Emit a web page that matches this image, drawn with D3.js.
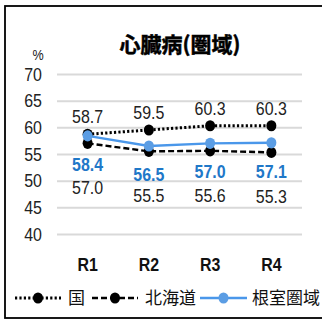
<!DOCTYPE html>
<html>
<head>
<meta charset="utf-8">
<script src="https://cdn.jsdelivr.net/npm/d3@7"></script>
<style>
  html, body { margin: 0; padding: 0; background: #fff; }
  svg { display: block; }
  text { font-family: "Liberation Sans", "Noto Sans CJK JP", sans-serif; }
</style>
</head>
<body>
<svg id="chart" width="322" height="322"></svg>
<script>
// Heart disease rate (%), fiscal years R1–R4
const categories = ["R1", "R2", "R3", "R4"];
const national = [58.7, 59.5, 60.3, 60.3];      // 国
const hokkaido = [57.0, 55.5, 55.6, 55.3];      // 北海道
const nemuro = [58.4, 56.5, 57.0, 57.1];        // 根室圏域
const yTicks = [40, 45, 50, 55, 60, 65, 70];
const seriesNames = ["国", "北海道", "根室圏域"];

const svg = d3.select("#chart");
const cjk = '"Noto Sans CJK JP", sans-serif';
const narrow = 0.84; // horizontal squeeze for the condensed numeric face

// Outer frame
svg.append("rect")
  .attr("x", 5).attr("y", 6).attr("width", 330).attr("height", 312)
  .attr("fill", "#fff").attr("stroke", "#000").attr("stroke-width", 1.8);

const x = d3.scaleBand().domain(categories).range([57, 302]);
const y = d3.scaleLinear().domain([40, 70]).range([234, 74]);
const cx = d => x(d) + x.bandwidth() / 2;

// Title
svg.append("text")
  .attr("x", 180).attr("y", 52)
  .attr("text-anchor", "middle")
  .attr("stroke", "#000").attr("stroke-width", 0.5)
  .style("font-family", cjk)
  .style("font-weight", "bold")
  .style("font-size", "21px")
  .text("心臓病(圏域)");

// Unit
svg.append("text")
  .attr("transform", `translate(38,60) scale(${narrow},1)`)
  .attr("text-anchor", "middle")
  .style("font-size", "15px")
  .attr("fill", "#222")
  .text("%");

// Y axis with gridlines
const yAxis = svg.append("g")
  .attr("transform", "translate(57,0)")
  .call(d3.axisLeft(y).tickValues(yTicks).tickSize(-245).tickPadding(15).tickFormat(d3.format("d")));
yAxis.select(".domain").remove();
yAxis.selectAll(".tick line").attr("stroke", "#d9d9d9").attr("stroke-width", 2);
yAxis.selectAll(".tick text")
  .attr("x", -15 / narrow)
  .attr("transform", `scale(${narrow},1)`)
  .attr("fill", "#222")
  .style("font-size", "19px");

// Category axis
const xAxis = svg.append("g")
  .attr("transform", "translate(0,234)")
  .call(d3.axisBottom(x).tickSize(0).tickPadding(24));
xAxis.select(".domain").remove();
xAxis.selectAll(".tick text")
  .attr("transform", `scale(${narrow},1)`)
  .attr("fill", "#111")
  .style("font-size", "19px")
  .style("font-weight", "bold");

const blueLine = "#4a97ea";
const blueMarker = "#5b9de4";
const blueText = "#1f78c8";

const series = [
  { name: seriesNames[0], values: national, stroke: "#000", dash: "2.2,2.2", width: 3, fill: "#000" },
  { name: seriesNames[1], values: hokkaido, stroke: "#000", dash: "6,3", width: 2.4, fill: "#000" },
  { name: seriesNames[2], values: nemuro, stroke: blueLine, dash: null, width: 2.4, fill: blueMarker }
];

const line = d3.line().x((d, i) => cx(categories[i])).y(d => y(d));

series.forEach(s => {
  svg.append("path")
    .datum(s.values)
    .attr("d", line)
    .attr("fill", "none")
    .attr("stroke", s.stroke)
    .attr("stroke-width", s.width)
    .attr("stroke-dasharray", s.dash);
});
series.forEach(s => {
  svg.selectAll(null)
    .data(s.values)
    .enter().append("ellipse")
    .attr("cx", (d, i) => cx(categories[i]))
    .attr("cy", d => y(d))
    .attr("rx", 5).attr("ry", 5.6)
    .attr("fill", s.fill);
});

// Value labels
function labels(values, offset, fill, bold) {
  svg.selectAll(null)
    .data(values)
    .enter().append("text")
    .attr("transform", (d, i) => `translate(${cx(categories[i])},${y(d) + offset}) scale(${narrow},1)`)
    .attr("dy", "0.36em")
    .attr("text-anchor", "middle")
    .attr("fill", fill)
    .style("font-size", "19px")
    .style("font-weight", bold ? "bold" : "normal")
    .text(d => d.toFixed(1));
}
labels(national, -18, "#222", false);
labels(nemuro, 28, blueText, true);
labels(hokkaido, 44, "#222", false);

// Legend
const legendY = 298;
const legendItems = [
  { s: series[0], x0: 15, x1: 61, tx: 68 },
  { s: series[1], x0: 92, x1: 138, tx: 145 },
  { s: series[2], x0: 200, x1: 247, tx: 252 }
];
legendItems.forEach(item => {
  svg.append("line")
    .attr("x1", item.x0).attr("x2", item.x1)
    .attr("y1", legendY).attr("y2", legendY)
    .attr("stroke", item.s.stroke)
    .attr("stroke-width", item.s.width)
    .attr("stroke-dasharray", item.s.dash);
  svg.append("ellipse")
    .attr("cx", (item.x0 + item.x1) / 2).attr("cy", legendY)
    .attr("rx", 5).attr("ry", 5.6)
    .attr("fill", item.s.fill);
  svg.append("text")
    .attr("x", item.tx).attr("y", legendY)
    .attr("dy", "0.36em")
    .attr("fill", "#111")
    .style("font-family", cjk)
    .style("font-size", "17px")
    .text(item.s.name);
});
</script>
</body>
</html>
